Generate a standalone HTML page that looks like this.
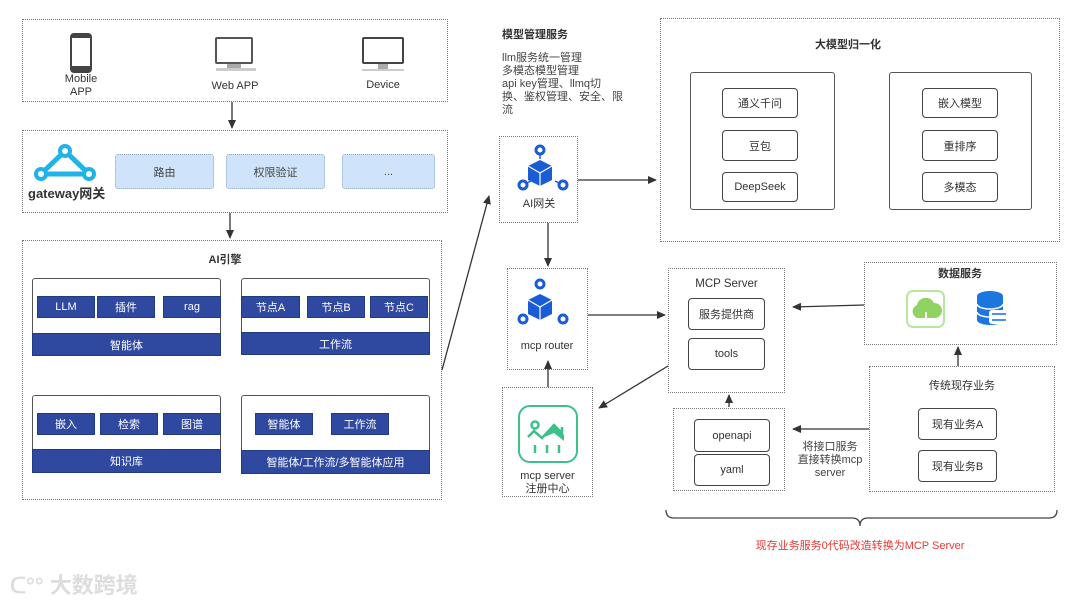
<!DOCTYPE html>
<html><head><meta charset="utf-8"><style>
body{margin:0;width:1080px;height:604px;background:#fff;position:relative;overflow:hidden;font-family:"Liberation Sans","Noto Sans CJK SC",sans-serif;color:#333;}
.a{position:absolute;box-sizing:border-box;}
.dot{border:1.3px dotted #777;}
.t{position:absolute;font-size:11px;white-space:nowrap;text-align:center;}
.lb{background:#cfe4fb;border:1px dotted #8fa8c8;border-radius:3px;font-size:11px;display:flex;align-items:center;justify-content:center;color:#444;}
.card{border:1.3px solid #555;border-radius:3px;}
.db{background:#2f48a0;color:#fff;font-size:11px;display:flex;align-items:center;justify-content:center;border:1px solid #223a80;}
.wb{border:1.3px solid #444;border-radius:4px;font-size:11px;display:flex;align-items:center;justify-content:center;color:#333;background:#fff;}
</style></head><body>

<!-- top box -->
<div class="a dot" style="left:22px;top:19px;width:426px;height:83px"></div>
<div class="a" style="left:70px;top:33px;width:22px;height:40px;border:2.5px solid #444;border-radius:4px;border-top-width:5px;border-bottom-width:7px"></div>
<div class="t" style="left:61px;top:73px;width:40px;line-height:13px">Mobile<br>APP</div>
<div class="a" style="left:215px;top:37px;width:38px;height:27px;border:2.5px solid #555;border-radius:2px"></div>
<div class="a" style="left:227px;top:64px;width:14px;height:4px;background:#aaa"></div>
<div class="a" style="left:216px;top:68px;width:40px;height:3px;background:#ccc"></div>
<div class="t" style="left:205px;top:80px;width:60px">Web APP</div>
<div class="a" style="left:362px;top:37px;width:42px;height:27px;border:2.5px solid #444;border-radius:2px"></div>
<div class="a" style="left:378px;top:64px;width:10px;height:5px;background:#aaa"></div>
<div class="a" style="left:362px;top:69px;width:42px;height:2px;background:#ccc"></div>
<div class="t" style="left:353px;top:79px;width:60px">Device</div>

<!-- gateway -->
<div class="a dot" style="left:22px;top:130px;width:426px;height:83px"></div>
<svg class="a" style="left:33px;top:143px" width="64" height="40"><g stroke="#1fb3ea" stroke-width="5" fill="none"><polygon points="32,8 8,31 56,31"/></g><g fill="#1fb3ea"><circle cx="32" cy="8" r="7"/><circle cx="8" cy="31" r="7"/><circle cx="56" cy="31" r="7"/></g><g fill="#fff"><circle cx="32" cy="8" r="3"/><circle cx="8" cy="31" r="3"/><circle cx="56" cy="31" r="3"/></g></svg>
<div class="t" style="left:28px;top:183px;font-size:13px;font-weight:bold;color:#333">gateway网关</div>
<div class="a lb" style="left:115px;top:154px;width:99px;height:35px">路由</div>
<div class="a lb" style="left:226px;top:154px;width:99px;height:35px">权限验证</div>
<div class="a lb" style="left:342px;top:154px;width:93px;height:35px">...</div>

<!-- AI engine -->
<div class="a dot" style="left:22px;top:240px;width:420px;height:260px"></div>
<div class="t" style="left:200px;top:251px;width:50px;font-weight:bold">AI引擎</div>

<div class="a card" style="left:32px;top:278px;width:189px;height:78px"></div>
<div class="a db" style="left:37px;top:296px;width:58px;height:22px">LLM</div>
<div class="a db" style="left:97px;top:296px;width:58px;height:22px">插件</div>
<div class="a db" style="left:163px;top:296px;width:58px;height:22px">rag</div>
<div class="a db" style="left:32px;top:333px;width:189px;height:23px">智能体</div>

<div class="a card" style="left:241px;top:278px;width:189px;height:77px"></div>
<div class="a db" style="left:241px;top:296px;width:59px;height:22px">节点A</div>
<div class="a db" style="left:307px;top:296px;width:58px;height:22px">节点B</div>
<div class="a db" style="left:370px;top:296px;width:58px;height:22px">节点C</div>
<div class="a db" style="left:241px;top:332px;width:189px;height:23px">工作流</div>

<div class="a card" style="left:32px;top:395px;width:189px;height:78px"></div>
<div class="a db" style="left:37px;top:413px;width:58px;height:22px">嵌入</div>
<div class="a db" style="left:100px;top:413px;width:58px;height:22px">检索</div>
<div class="a db" style="left:163px;top:413px;width:58px;height:22px">图谱</div>
<div class="a db" style="left:32px;top:449px;width:189px;height:24px">知识库</div>

<div class="a card" style="left:241px;top:395px;width:189px;height:79px"></div>
<div class="a db" style="left:255px;top:413px;width:58px;height:22px">智能体</div>
<div class="a db" style="left:331px;top:413px;width:58px;height:22px">工作流</div>
<div class="a db" style="left:241px;top:450px;width:189px;height:24px">智能体/工作流/多智能体应用</div>

<!-- model mgmt -->
<div class="t" style="left:502px;top:26px;font-weight:bold;font-size:11px">模型管理服务</div>
<div class="a" style="left:502px;top:52px;font-size:11px;line-height:13px;color:#444">llm服务统一管理<br>多模态模型管理<br>api key管理、llmq切<br>换、鉴权管理、安全、限<br>流</div>

<div class="a dot" style="left:499px;top:136px;width:79px;height:87px"></div>
<svg class="a" style="left:516px;top:143px" width="64" height="52"><g fill="none" stroke="#1a5bd6" stroke-width="3"><circle cx="24" cy="7" r="4"/><circle cx="7" cy="42" r="4"/><circle cx="47" cy="42" r="4"/></g><polygon points="24,17 36,23 36,37 24,43 12,37 12,23" fill="#1a5bd6"/><g stroke="#fff" stroke-width="1.2"><line x1="24" y1="30" x2="24" y2="43"/><line x1="12" y1="23" x2="24" y2="30"/><line x1="36" y1="23" x2="24" y2="30"/></g><g stroke="#1a5bd6" stroke-width="1.5"><line x1="24" y1="11" x2="24" y2="16"/><line x1="11" y1="40" x2="15" y2="38"/><line x1="43" y1="40" x2="39" y2="38"/></g></svg>
<div class="t" style="left:510px;top:195px;width:58px">AI网关</div>

<!-- big model -->
<div class="a dot" style="left:660px;top:18px;width:400px;height:224px"></div>
<div class="t" style="left:810px;top:36px;width:76px;font-weight:bold">大模型归一化</div>
<div class="a card" style="left:690px;top:72px;width:145px;height:138px"></div>
<div class="a wb" style="left:722px;top:88px;width:76px;height:30px">通义千问</div>
<div class="a wb" style="left:722px;top:130px;width:76px;height:31px">豆包</div>
<div class="a wb" style="left:722px;top:172px;width:76px;height:30px">DeepSeek</div>
<div class="a card" style="left:889px;top:72px;width:143px;height:138px"></div>
<div class="a wb" style="left:922px;top:88px;width:76px;height:30px">嵌入模型</div>
<div class="a wb" style="left:922px;top:130px;width:76px;height:31px">重排序</div>
<div class="a wb" style="left:922px;top:172px;width:76px;height:30px">多模态</div>

<!-- mcp router -->
<div class="a dot" style="left:507px;top:268px;width:81px;height:102px"></div>
<svg class="a" style="left:516px;top:277px" width="64" height="52"><g fill="none" stroke="#1a5bd6" stroke-width="3"><circle cx="24" cy="7" r="4"/><circle cx="7" cy="42" r="4"/><circle cx="47" cy="42" r="4"/></g><polygon points="24,17 36,23 36,37 24,43 12,37 12,23" fill="#1a5bd6"/><g stroke="#fff" stroke-width="1.2"><line x1="24" y1="30" x2="24" y2="43"/><line x1="12" y1="23" x2="24" y2="30"/><line x1="36" y1="23" x2="24" y2="30"/></g></svg>
<div class="t" style="left:512px;top:340px;width:70px">mcp router</div>

<!-- mcp server registry -->
<div class="a dot" style="left:502px;top:387px;width:91px;height:110px"></div>
<div class="a" style="left:518px;top:405px;width:60px;height:58px;border:2.5px solid #3cc18a;border-radius:12px"></div>
<svg class="a" style="left:518px;top:405px" width="60" height="58"><g fill="none" stroke="#3cc18a" stroke-width="2.5"><circle cx="17" cy="20" r="3.5"/><polyline points="10,32 16,26 24,33 36,20 44,28 44,22"/><line x1="17" y1="40" x2="17" y2="48"/><line x1="29" y1="40" x2="29" y2="48"/><line x1="41" y1="40" x2="41" y2="48"/></g><polygon points="24,33 36,20 46,30 46,36 36,28" fill="#3cc18a"/></svg>
<div class="t" style="left:505px;top:470px;width:85px;line-height:13px">mcp server<br>注册中心</div>

<!-- MCP server -->
<div class="a dot" style="left:668px;top:268px;width:117px;height:125px"></div>
<div class="t" style="left:680px;top:278px;width:93px;font-size:11.5px">MCP Server</div>
<div class="a wb" style="left:688px;top:298px;width:77px;height:32px">服务提供商</div>
<div class="a wb" style="left:688px;top:338px;width:77px;height:32px">tools</div>

<!-- openapi -->
<div class="a dot" style="left:673px;top:408px;width:112px;height:83px"></div>
<div class="a wb" style="left:694px;top:419px;width:76px;height:33px">openapi</div>
<div class="a wb" style="left:694px;top:454px;width:76px;height:32px">yaml</div>
<div class="t" style="left:790px;top:441px;width:80px;line-height:13px;color:#444">将接口服务<br>直接转换mcp<br>server</div>

<!-- data service -->
<div class="a dot" style="left:864px;top:262px;width:193px;height:83px"></div>
<div class="t" style="left:920px;top:265px;width:80px;font-weight:bold">数据服务</div>
<div class="a" style="left:906px;top:290px;width:39px;height:38px;border:2px solid #b8e5a0;border-radius:7px"></div>
<svg class="a" style="left:906px;top:290px" width="40" height="38"><path d="M11,28 a7,7 0 0 1 0,-13 a9,9 0 0 1 17,-2 a7,7 0 0 1 1,15 z" fill="#8fd460"/><line x1="20" y1="22" x2="20" y2="30" stroke="#fff" stroke-width="2"/></svg>
<svg class="a" style="left:975px;top:290px" width="36" height="38"><ellipse cx="15" cy="6" rx="13" ry="5" fill="#1b76e0"/><rect x="2" y="6" width="26" height="24" fill="#1b76e0"/><ellipse cx="15" cy="30" rx="13" ry="5" fill="#1b76e0"/><path d="M2,14 a13,5 0 0 0 26,0 M2,22 a13,5 0 0 0 26,0" stroke="#fff" stroke-width="1.5" fill="none"/><rect x="14" y="20" width="20" height="14" rx="3" fill="#fff"/><g stroke="#1b76e0" stroke-width="1.6"><line x1="17" y1="24" x2="31" y2="24"/><line x1="17" y1="30" x2="31" y2="30"/></g></svg>

<!-- legacy -->
<div class="a dot" style="left:869px;top:366px;width:186px;height:126px"></div>
<div class="t" style="left:900px;top:377px;width:124px">传统现存业务</div>
<div class="a wb" style="left:918px;top:408px;width:79px;height:32px">现有业务A</div>
<div class="a wb" style="left:918px;top:450px;width:79px;height:32px">现有业务B</div>

<div class="t" style="left:730px;top:537px;width:260px;color:#e53935;font-size:11px">现存业务服务0代码改造转换为MCP Server</div>

<div class="t" style="left:10px;top:568px;font-size:22px;color:#ddd;font-weight:bold">ᑕ°° 大数跨境</div>

<svg class="a" style="left:0;top:0" width="1080" height="604">
<defs><marker id="ar" markerWidth="10" markerHeight="10" refX="8" refY="4" orient="auto" markerUnits="userSpaceOnUse"><path d="M0,0 L9,4 L0,8 z" fill="#333"/></marker></defs>
<g stroke="#333" stroke-width="1.3" fill="none" marker-end="url(#ar)">
<line x1="232" y1="102" x2="232" y2="128"/>
<line x1="230" y1="213" x2="230" y2="238"/>
<line x1="442" y1="370" x2="489" y2="196"/>
<line x1="578" y1="180" x2="656" y2="180"/>
<line x1="548" y1="223" x2="548" y2="266"/>
<line x1="588" y1="315" x2="665" y2="315"/>
<line x1="548" y1="387" x2="548" y2="361"/>
<line x1="864" y1="305" x2="793" y2="307"/>
<line x1="668" y1="366" x2="599" y2="408"/>
<line x1="958" y1="366" x2="958" y2="347"/>
<line x1="869" y1="429" x2="793" y2="429"/>
<line x1="729" y1="407" x2="729" y2="395"/>
</g>
<path d="M666,510 q0,8 8,8 L852,518 q8,0 8,8 q0,-8 8,-8 L1049,518 q8,0 8,-8" stroke="#444" stroke-width="1.3" fill="none"/>
</svg>
</body></html>
